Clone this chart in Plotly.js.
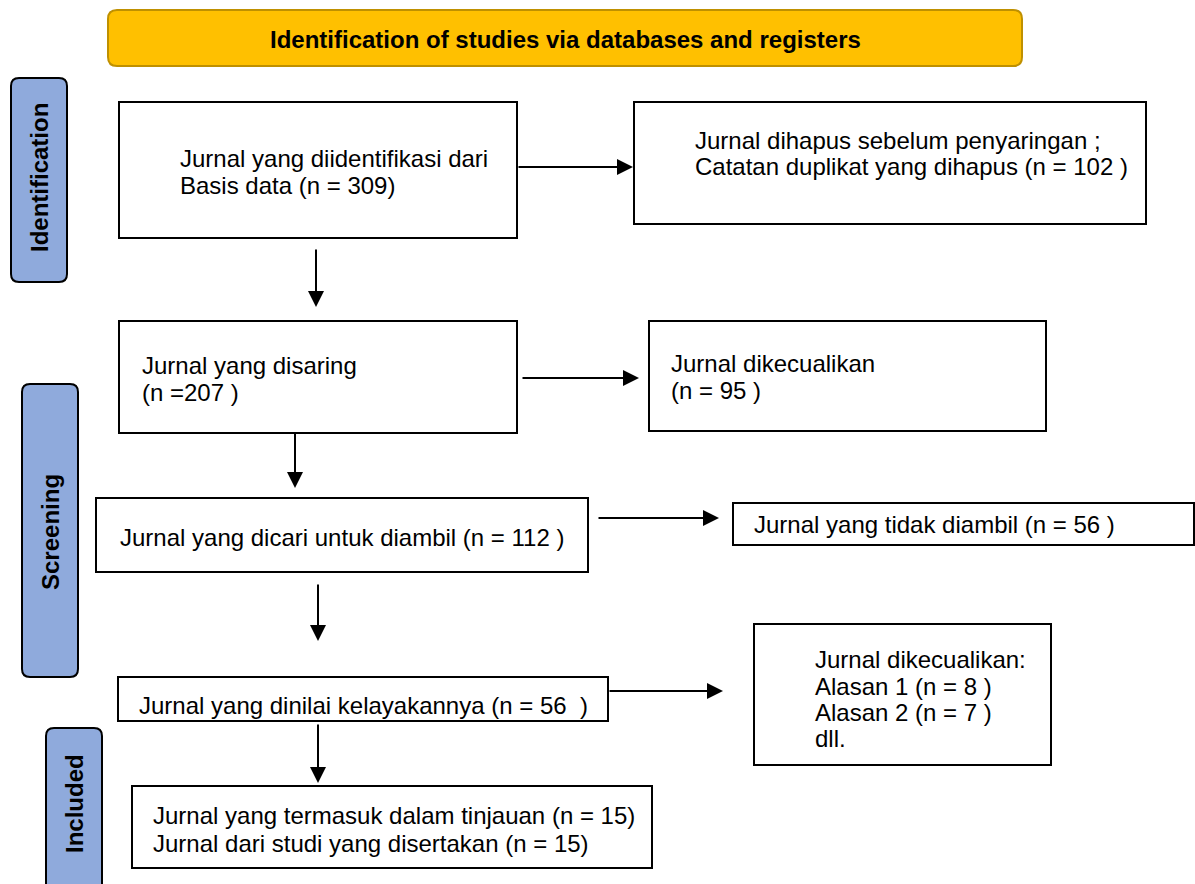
<!DOCTYPE html>
<html>
<head>
<meta charset="utf-8">
<script src="https://cdn.plot.ly/plotly-3.0.1.min.js"></script>
<style>html,body{margin:0;padding:0;background:#fff;}</style>
</head>
<body>
<div id="chart" style="width:1195px;height:884px;"></div>
<script>
// ---- data ----
const headerTitle = "Identification of studies via databases and registers";
const stageLabels = ["Identification", "Screening", "Included"];
const nIdentified = 309;
const nRemovedDuplicates = 102;
const nScreened = 207;
const nExcluded = 95;
const nSought = 112;
const nNotRetrieved = 56;
const nAssessed = 56;
const reasonNames = ["Alasan 1", "Alasan 2"];
const reasonCounts = [8, 7];
const nIncludedStudies = 15;
const nIncludedReports = 15;

// box texts (line by line)
const boxLines = {
  A: ["Jurnal yang diidentifikasi dari", "Basis data (n = " + nIdentified + ")"],
  B: ["Jurnal dihapus sebelum penyaringan ;", "Catatan duplikat yang dihapus (n = " + nRemovedDuplicates + " )"],
  C: ["Jurnal yang disaring", "(n =" + nScreened + " )"],
  D: ["Jurnal dikecualikan", "(n = " + nExcluded + " )"],
  E: ["Jurnal yang dicari untuk diambil (n = " + nSought + " )"],
  F: ["Jurnal yang tidak diambil (n = " + nNotRetrieved + " )"],
  G: ["Jurnal yang dinilai kelayakannya (n = " + nAssessed + "  )"],
  H: ["Jurnal dikecualikan:"].concat(reasonNames.map((r, i) => r + " (n = " + reasonCounts[i] + " )")).concat(["dll."]),
  I: ["Jurnal yang termasuk dalam tinjauan (n = " + nIncludedStudies + ")", "Jurnal dari studi yang disertakan (n = " + nIncludedReports + ")"]
};

// ---- layout geometry ----
const boxes = {
  A: {x0: 119, x1: 517, y0: 102, y1: 238, tx: 178, ty: [158, 185]},
  B: {x0: 634, x1: 1146, y0: 102, y1: 224, tx: 693, ty: [140, 166]},
  C: {x0: 119, x1: 517, y0: 321, y1: 433, tx: 140, ty: [365, 392]},
  D: {x0: 649, x1: 1046, y0: 321, y1: 431, tx: 669, ty: [363, 390]},
  E: {x0: 96, x1: 588, y0: 498, y1: 572, tx: 118, ty: [537]},
  F: {x0: 733, x1: 1194, y0: 503, y1: 545, tx: 752, ty: [524]},
  G: {x0: 118, x1: 608, y0: 677, y1: 721, tx: 139, ty: [708]},
  H: {x0: 754, x1: 1051, y0: 624, y1: 765, tx: 813, ty: [659, 686, 712, 738]},
  I: {x0: 132, x1: 652, y0: 786, y1: 868, tx: 151, ty: [815, 843]}
};
const sideBoxes = [
  {x0: 11, x1: 67, y0: 78, y1: 282, cy: 178},
  {x0: 22, x1: 78, y0: 384, y1: 677, cy: 532},
  {x0: 46, x1: 102, y0: 728, y1: 900, cy: 804}
];
const arrows = [
  {x0: 517, y0: 167, x1: 633, y1: 167},
  {x0: 316, y0: 248, x1: 316, y1: 307},
  {x0: 521, y0: 378, x1: 639, y1: 378},
  {x0: 295, y0: 432, x1: 295, y1: 488},
  {x0: 597, y0: 518, x1: 719, y1: 518},
  {x0: 318, y0: 583, x1: 318, y1: 641},
  {x0: 608, y0: 691, x1: 723, y1: 691},
  {x0: 318, y0: 723, x1: 318, y1: 783}
];

function roundRect(x0, y0, x1, y1, r) {
  return `M ${x0 + r},${y0} L ${x1 - r},${y0} Q ${x1},${y0} ${x1},${y0 + r} L ${x1},${y1 - r} Q ${x1},${y1} ${x1 - r},${y1} L ${x0 + r},${y1} Q ${x0},${y1} ${x0},${y1 - r} L ${x0},${y0 + r} Q ${x0},${y0} ${x0 + r},${y0} Z`;
}

const FONT = "Liberation Sans, Arial, sans-serif";
const BODY = 24;
const shapes = [];
const annotations = [];
const traces = [];

// header banner
shapes.push({type: "path", xref: "x", yref: "y", path: roundRect(108, 10, 1022, 66, 9),
  fillcolor: "#FFC000", line: {color: "#BF9000", width: 2}, layer: "below"});
annotations.push({x: 565, y: 39, xref: "x", yref: "y", text: "<b>" + headerTitle + "</b>",
  showarrow: false, xanchor: "center", yanchor: "middle", font: {family: FONT, size: 24, color: "#000"}});

// side stage labels
sideBoxes.forEach((s, i) => {
  shapes.push({type: "path", xref: "x", yref: "y", path: roundRect(s.x0, s.y0, s.x1, s.y1, 8),
    fillcolor: "#8FAADC", line: {color: "#000", width: 2}, layer: "below"});
  annotations.push({x: (s.x0 + s.x1) / 2, y: s.cy, xref: "x", yref: "y", text: "<b>" + stageLabels[i] + "</b>",
    textangle: -90, showarrow: false, xanchor: "center", yanchor: "middle",
    font: {family: FONT, size: 24, color: "#000"}});
});

// boxes
Object.keys(boxes).forEach(k => {
  const b = boxes[k];
  if (k === "G") {
    // text drawn as a trace so the box edge can crop its descenders like the original
    traces.push({type: "scatter", mode: "text", x: [b.tx], y: [b.ty[0]], text: boxLines[k],
      textposition: "middle right", textfont: {family: FONT, size: BODY, color: "#000"},
      hoverinfo: "skip", cliponaxis: false});
    shapes.push({type: "rect", xref: "x", yref: "y", x0: b.x0 + 2, x1: b.x1 - 2, y0: b.y1, y1: b.y1 + 14,
      fillcolor: "#fff", line: {width: 0}, layer: "above"});
  } else {
    boxLines[k].forEach((line, j) => {
      annotations.push({x: b.tx, y: b.ty[j], xref: "x", yref: "y", text: line, showarrow: false,
        xanchor: "left", yanchor: "middle", align: "left",
        font: {family: FONT, size: BODY, color: "#000"}});
    });
  }
  shapes.push({type: "rect", xref: "x", yref: "y", x0: b.x0, x1: b.x1, y0: b.y0, y1: b.y1,
    fillcolor: "rgba(255,255,255,0)", line: {color: "#000", width: 2}, layer: "above"});
});

// arrows
arrows.forEach(a => {
  annotations.push({x: a.x1, y: a.y1, ax: a.x0, ay: a.y0, xref: "x", yref: "y", axref: "x", ayref: "y",
    text: "", showarrow: true, arrowhead: 2, arrowsize: 1.6, arrowwidth: 2, arrowcolor: "#000", standoff: 0});
});

const layout = {
  width: 1195, height: 884,
  margin: {l: 0, r: 0, t: 0, b: 0},
  paper_bgcolor: "#fff", plot_bgcolor: "rgba(0,0,0,0)",
  xaxis: {range: [0, 1195], visible: false, fixedrange: true},
  yaxis: {range: [884, 0], visible: false, fixedrange: true},
  showlegend: false,
  shapes: shapes,
  annotations: annotations
};

Plotly.newPlot("chart", traces, layout, {displayModeBar: false, staticPlot: true});
</script>
</body>
</html>
